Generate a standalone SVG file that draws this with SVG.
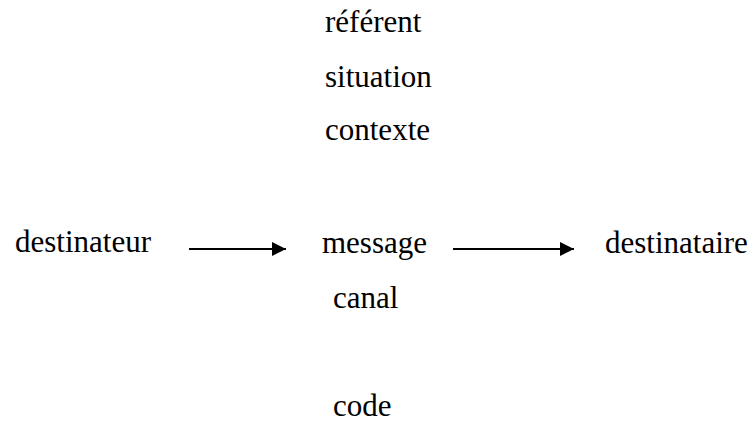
<svg xmlns="http://www.w3.org/2000/svg" width="754" height="423" viewBox="0 0 754 423">
  <style>
    .lbl { font-family: "Liberation Serif", "Times New Roman", serif; font-size: 31px; fill: #000; }
    .conn { stroke: #000; stroke-width: 2; fill: none; }
  </style>
  <defs>
    <marker id="arrow" viewBox="0 0 10 10" refX="10" refY="5" markerWidth="8.5" markerHeight="7" markerUnits="strokeWidth" orient="auto">
      <path d="M0,0 L10,5 L0,10 Z" fill="#000"/>
    </marker>
  </defs>
  <rect width="754" height="423" fill="#fff"/>
  <g id="referent"><text class="lbl" x="325" y="32">référent</text></g>
  <g id="situation"><text class="lbl" x="325" y="87">situation</text></g>
  <g id="contexte"><text class="lbl" x="325" y="140">contexte</text></g>
  <g id="destinateur"><text class="lbl" x="15" y="252">destinateur</text></g>
  <g id="message"><text class="lbl" x="322" y="253">message</text></g>
  <g id="destinataire"><text class="lbl" x="605" y="253">destinataire</text></g>
  <g id="canal"><text class="lbl" x="333" y="308">canal</text></g>
  <g id="code"><text class="lbl" x="333" y="416">code</text></g>
  <g id="connectors">
    <line class="conn" x1="189" y1="249" x2="286" y2="249" marker-end="url(#arrow)"/>
    <line class="conn" x1="453" y1="249" x2="574" y2="249" marker-end="url(#arrow)"/>
  </g>
</svg>
